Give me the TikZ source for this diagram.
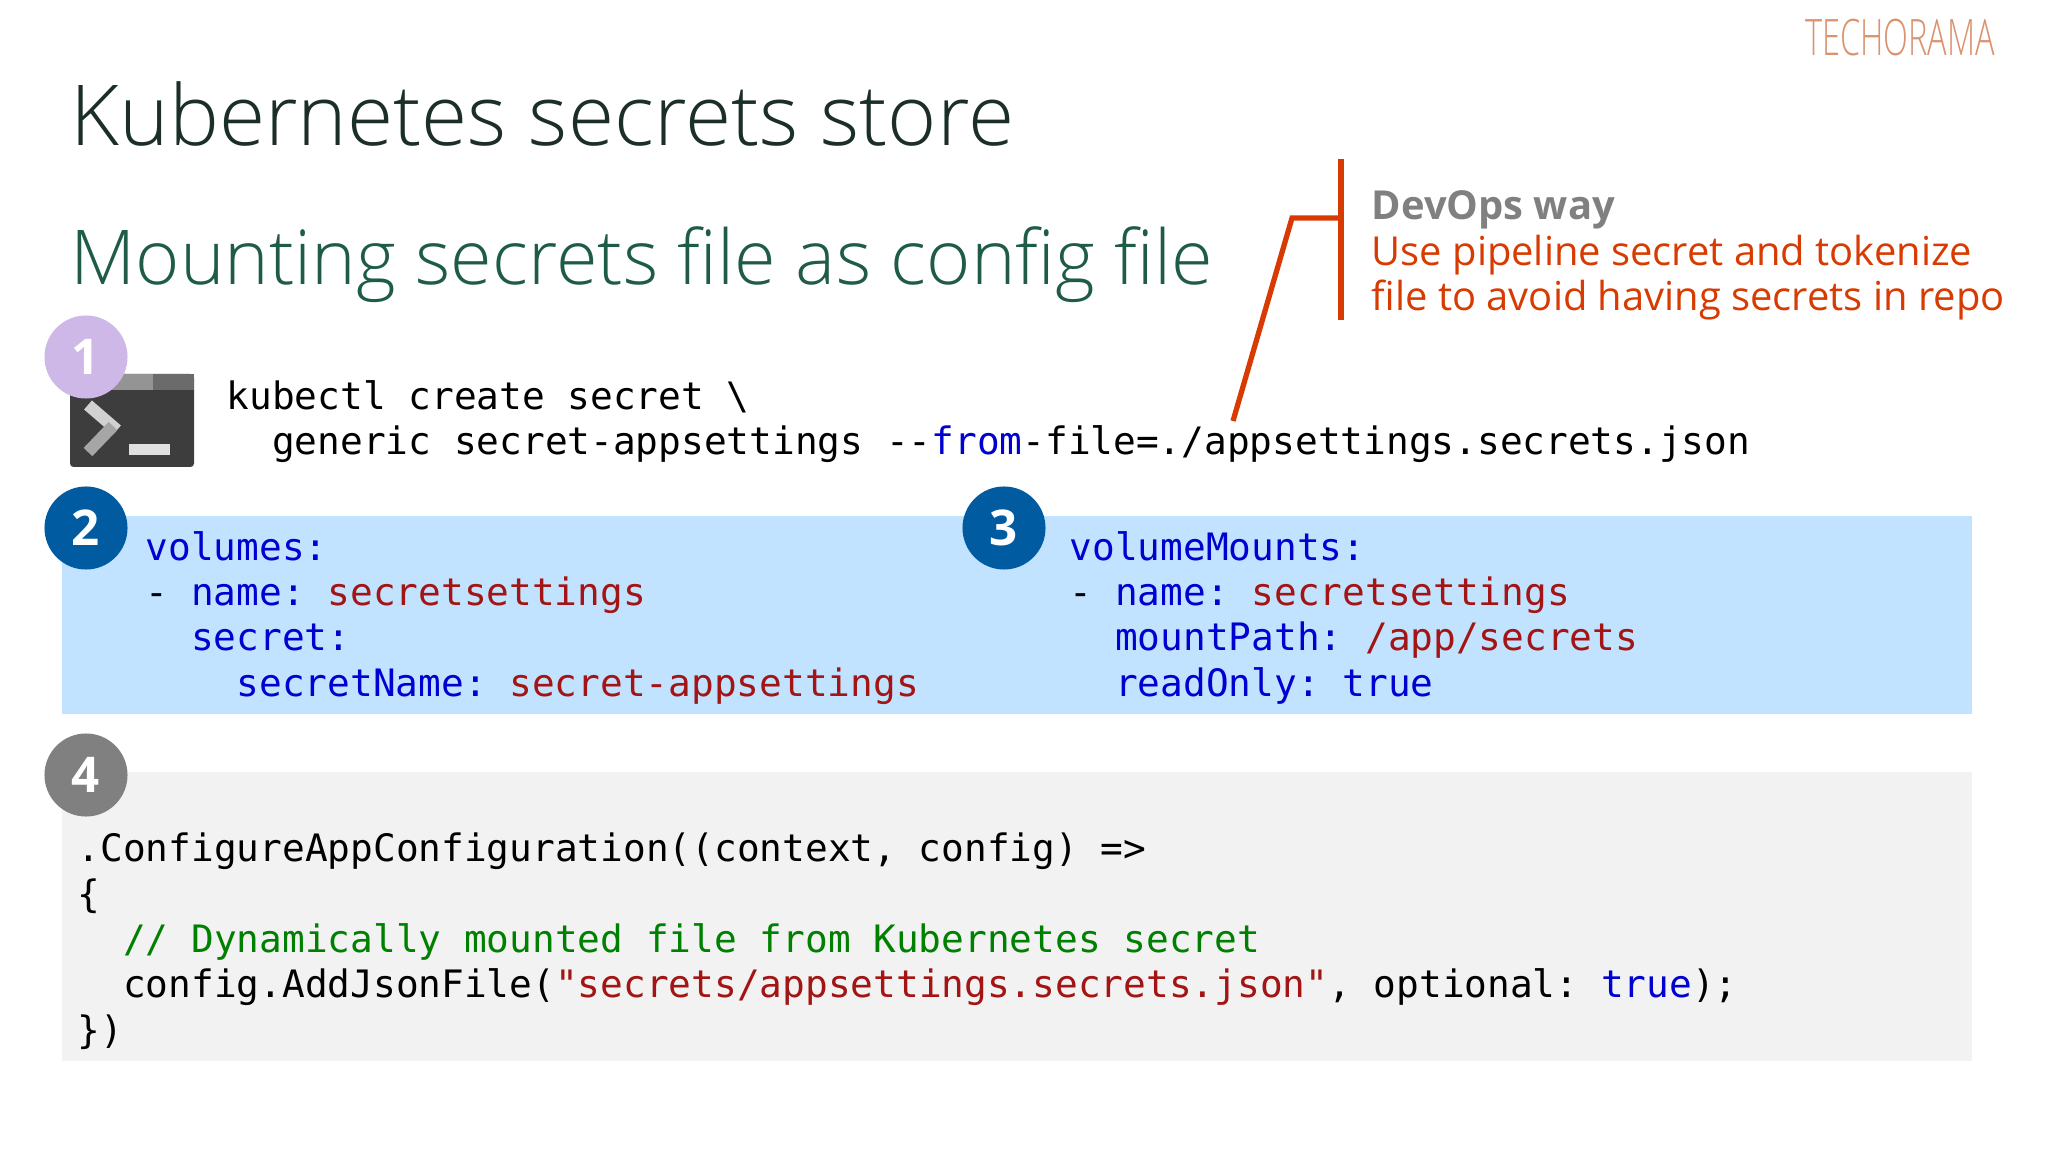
\documentclass[tikz,border=0pt]{standalone}
\usepackage{fontspec}
\setmainfont{Open Sans}
\newfontfamily\codefont{DejaVu Sans Mono}
\newfontfamily\lightfont{Open Sans Light}
\definecolor{titlecol}{HTML}{1B2E28}
\definecolor{subcol}{HTML}{1F5C46}
\definecolor{accent}{HTML}{D83B01}
\definecolor{keyblue}{HTML}{0000D0}
\definecolor{valred}{HTML}{A31515}
\definecolor{cmtgreen}{HTML}{008000}
\definecolor{bluebox}{HTML}{C2E3FF}
\definecolor{greybox}{HTML}{F2F2F2}
\definecolor{lilac}{HTML}{CDB8E8}
\definecolor{badgeblue}{HTML}{005BA1}
\definecolor{logocol}{HTML}{D9936F}
\newcommand{\kw}[1]{\textcolor{keyblue}{#1}}
\newcommand{\vl}[1]{\textcolor{valred}{#1}}
\newcommand{\topline}{\rule{0pt}{8pt}}

\begin{document}
\begin{tikzpicture}[x=0.01cm, y=-0.01cm,
    code/.style={anchor=north west, inner sep=0pt, align=left, font=\codefont\frenchspacing\fontsize{10.74}{12.9}\selectfont},
    badge/.style={circle, minimum size=0.83cm, inner sep=0pt, text=white, font=\bfseries\fontsize{14}{16}\selectfont},
    heading/.style={anchor=base west, inner sep=0pt, font=\lightfont\fontsize{#1}{#1}\selectfont},
    note/.style={anchor=north west, inner sep=0pt, align=left, font=\fontsize{11.35}{12.9}\selectfont}]
    \useasboundingbox (0,0) rectangle (2048,1152);
    \fill[bluebox] (62,516) rectangle (1972,714);
    \fill[greybox] (62,772) rectangle (1972,1061);
    % terminal icon
    \fill[black!76, rounded corners=1pt] (70,374) rectangle (194,467);
    \fill[black!42] (70,374) rectangle (153,390);
    \fill[black!58] (153,374) rectangle (194,390);
    \draw[black!18, line width=3.4pt] (88,405) -- (117,430);
    \draw[black!35, line width=3.4pt] (113,426) -- (88,452);
    \fill[black!12] (129,444) rectangle (170,455);
    \node[heading=23.9, text=titlecol] (title) at (70,146) {Kubernetes secrets store};
    \node[heading=21.5, text=subcol] (sub) at (70,285) {Mounting secrets file as config file};
    \node[font=\lightfont\fontsize{11}{11}\selectfont, text=logocol, inner sep=0pt, xscale=0.84, yscale=1.3] (logo) at (1900,38) {TECHORAMA};
    \node[badge, fill=lilac] (one) at (86,357) {1};
    \node[badge, fill=badgeblue] (two) at (86,528) {2};
    \node[badge, fill=badgeblue] (three) at (1004,528) {3};
    \node[badge, fill=black!50] (four) at (86,775) {4};
    \node[code] (cmd) at (226,379.5) {\topline kubectl create secret \textbackslash\\
      ~~generic secret-appsettings --\kw{from}-file=./appsettings.secrets.json};
    \node[code] (vols) at (145,530.5) {\topline\kw{volumes:}\\
      - \kw{name:} \vl{secretsettings}\\
      ~~\kw{secret:}\\
      ~~~~\kw{secretName:} \vl{secret-appsettings}};
    \node[code] (mounts) at (1069,530.5) {\topline\kw{volumeMounts:}\\
      - \kw{name:} \vl{secretsettings}\\
      ~~\kw{mountPath:} \vl{/app/secrets}\\
      ~~\kw{readOnly:} \kw{true}};
    \node[code] (conf) at (77,832.5) {\topline .ConfigureAppConfiguration((context, config) =>\\
      \{\\
      ~~\textcolor{cmtgreen}{// Dynamically mounted file from Kubernetes secret}\\
      ~~config.AddJsonFile(\vl{"secrets/appsettings.secrets.json"}, optional: \kw{true});\\
      \})};
    \node[note, text=black!50, font=\bfseries\fontsize{11.35}{12.9}\selectfont] (way) at (1371,190) {\topline DevOps way};
    \node[note, text=accent] (tip) at (1371,234) {\topline Use pipeline secret and tokenize\\file to avoid having secrets in repo};
    \coordinate (bartop) at (1341,159);
    \coordinate (barbot) at (1341,320);
    \coordinate (barmid) at (1341,218);
    \coordinate (knee) at (1292,218);
    \coordinate (tail) at (1233,421);
    \draw[accent, line width=1.5pt] (bartop) -- (barbot);
    \draw[accent, line width=1.5pt] (barmid) -- (knee) -- (tail);
  \end{tikzpicture}
\end{document}
